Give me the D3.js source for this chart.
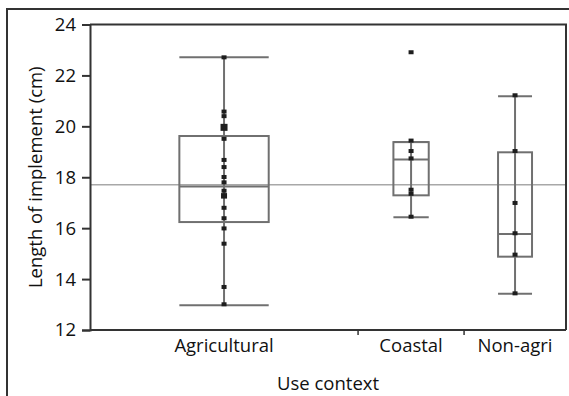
<!DOCTYPE html>
<html>
<head>
<meta charset="utf-8">
<script src="https://cdn.jsdelivr.net/npm/d3@7"></script>
<style>
  body { margin: 0; background: #fff; }
  svg { display: block; font-family: 'Open Sans', sans-serif; }
</style>
</head>
<body>
<svg id="chart" width="569" height="396"></svg>
<script>
// categories and their relative band widths (JMP style)
const categories = ['Agricultural', 'Coastal', 'Non-agri']
const bandWeights = [2.63, 1.04, 1]

// raw points
const agriValues = [22.71, 20.4, 20.58, 19.96, 19.96, 19.96, 19.51, 18.68, 18.4, 18.01, 17.8, 17.47, 17.27, 17.27, 16.8, 16.39, 15.99, 15.39, 13.69, 13.01]
const coastalValues = [22.91, 19.44, 19.03, 18.74, 17.51, 17.35, 16.45]
const nonAgriValues = [21.22, 19.03, 16.99, 15.8, 14.96, 13.44]

// box stats: [whisker low, q1, median, q3, whisker high]
const boxStats = [
	[12.97, 16.24, 17.64, 19.62, 22.71],
	[16.43, 17.29, 18.7, 19.38, 19.38],
	[13.42, 14.88, 15.77, 18.98, 21.18]
]
const grandMean = 17.71
const yTicks = [12, 14, 16, 18, 20, 22, 24]

const groups = [agriValues, coastalValues, nonAgriValues]

const svg = d3.select('#chart')
const plotLeft = 90, plotRight = 566, plotTop = 24.5, plotBottom = 330
const fontSize = '18.5px'

// outer frame (cut off at right and bottom)
svg.append('path')
	.attr('d', `M7,396V9H569`)
	.attr('fill', 'none')
	.attr('stroke', '#333')
	.attr('stroke-width', 2)

const y = d3.scaleLinear().domain([12, 24]).range([plotBottom, plotTop])

// cumulative band edges
const edges = [0]
bandWeights.forEach(w => edges.push(edges[edges.length - 1] + w))
const x = d3.scaleLinear().domain([0, edges[edges.length - 1]]).range([plotLeft, plotRight])
const center = i => x((edges[i] + edges[i + 1]) / 2)
const halfBox = i => (x(edges[i + 1]) - x(edges[i])) / 6

const g = svg.append('g')

// mean line
g.append('line')
	.attr('x1', plotLeft).attr('x2', plotRight)
	.attr('y1', y(grandMean)).attr('y2', y(grandMean))
	.attr('stroke', '#a8a8a8')
	.attr('stroke-width', 1.5)

// boxes
const boxes = g.selectAll('.box')
	.data(boxStats)
	.enter()
	.append('g')
	.attr('class', 'box')
	.attr('fill', 'none')
	.attr('stroke', '#707070')
	.attr('stroke-width', 2)

boxes.append('line')
	.attr('x1', (d, i) => center(i)).attr('x2', (d, i) => center(i))
	.attr('y1', d => y(d[0])).attr('y2', d => y(d[4]))

boxes.append('rect')
	.attr('x', (d, i) => center(i) - halfBox(i))
	.attr('width', (d, i) => halfBox(i) * 2)
	.attr('y', d => y(d[3]))
	.attr('height', d => y(d[1]) - y(d[3]))

boxes.selectAll('.hl')
	.data((d, i) => [d[0], d[2], d[4]].map(v => ({ v, i })))
	.enter()
	.append('line')
	.attr('x1', d => center(d.i) - halfBox(d.i))
	.attr('x2', d => center(d.i) + halfBox(d.i))
	.attr('y1', d => y(d.v)).attr('y2', d => y(d.v))

// points, stacked duplicates drawn bigger
groups.forEach((vals, i) => {
	const counts = d3.rollups(vals, v => v.length, v => v)
	g.selectAll(null)
		.data(counts)
		.enter()
		.append('rect')
		.attr('fill', '#1e1e1e')
		.attr('width', d => 5 + (d[1] - 1))
		.attr('height', d => 4 + (d[1] - 1) * 1.5)
		.attr('x', d => center(i) - (5 + (d[1] - 1)) / 2)
		.attr('y', d => y(d[0]) - (4 + (d[1] - 1) * 1.5) / 2)
})

// plot frame
g.append('path')
	.attr('d', `M${plotLeft},${plotTop}H${plotRight}V${plotBottom}`)
	.attr('fill', 'none')
	.attr('stroke', '#333')
	.attr('stroke-width', 2)

// y axis
const yAxis = svg.append('g')
	.attr('transform', `translate(${plotLeft},0)`)
	.call(d3.axisLeft(y).tickValues(yTicks).tickSize(8).tickPadding(6))
yAxis.select('.domain').attr('stroke', '#333').attr('stroke-width', 2)
yAxis.selectAll('.tick line').attr('stroke', '#333').attr('stroke-width', 2)
yAxis.selectAll('.tick text')
	.attr('fill', '#111')
	.style('font-size', fontSize)
	.style('font-family', "'Open Sans', sans-serif")

// x axis: ticks at band boundaries, labels at centres
const xAxis = svg.append('g')
	.attr('transform', `translate(0,${plotBottom})`)
xAxis.append('line')
	.attr('x1', plotLeft).attr('x2', plotRight)
	.attr('stroke', '#333').attr('stroke-width', 2)
xAxis.selectAll('.sep')
	.data(edges.slice(1, -1))
	.enter()
	.append('line')
	.attr('x1', d => x(d)).attr('x2', d => x(d))
	.attr('y1', 0).attr('y2', 5)
	.attr('stroke', '#333').attr('stroke-width', 1.5)
xAxis.selectAll('.lab')
	.data(categories)
	.enter()
	.append('text')
	.attr('x', (d, i) => center(i))
	.attr('y', 22)
	.attr('text-anchor', 'middle')
	.attr('fill', '#111')
	.style('font-size', fontSize)
	.text(d => d)

// axis titles
svg.append('text')
	.attr('x', (plotLeft + plotRight) / 2)
	.attr('y', 390)
	.attr('text-anchor', 'middle')
	.attr('fill', '#111')
	.style('font-size', fontSize)
	.text('Use context')

svg.append('text')
	.attr('transform', `translate(42,${(plotTop + plotBottom) / 2}) rotate(-90)`)
	.attr('text-anchor', 'middle')
	.attr('fill', '#111')
	.style('font-size', fontSize)
	.text('Length of implement (cm)')
</script>
</body>
</html>
